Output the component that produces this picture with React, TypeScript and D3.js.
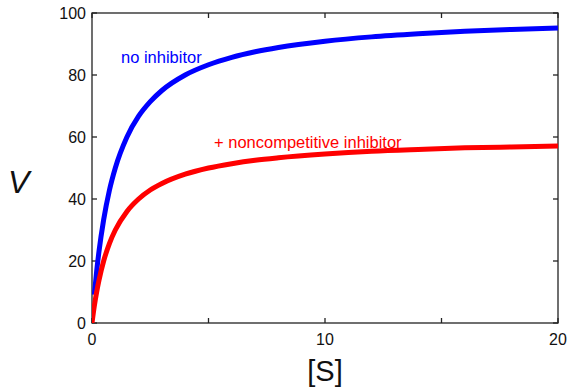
import React from "react";
import * as d3 from "d3";

const S = [0, 0.1, 0.2, 0.3, 0.5, 0.75, 1, 1.5, 2, 2.5, 3, 4, 5, 6, 7, 8, 10, 12, 14, 16, 18, 20];
const noInhibitor = [null, 9.1, 16.7, 23.1, 33.3, 42.9, 50, 60, 66.7, 71.4, 75, 80, 83.3, 85.7, 87.5, 88.9, 90.9, 92.3, 93.3, 94.1, 94.7, 95.2];
const withInhibitor = [0, 5.5, 10, 13.8, 20, 25.7, 30, 36, 40, 42.9, 45, 48, 50, 51.4, 52.5, 53.3, 54.5, 55.4, 56, 56.5, 56.8, 57.1];

const xTicks = [0, 5, 10, 15, 20];
const xTickLabels = [0, 10, 20];
const yTicks = [0, 20, 40, 60, 80, 100];

const W = 568, H = 388;
const L = 92, R = 558, T = 13, B = 323;

export default function App() {
  const x = d3.scaleLinear().domain([0, 20]).range([L, R]);
  const y = d3.scaleLinear().domain([0, 100]).range([B, T]);
  const line = d3
    .line<[number, number | null]>()
    .defined((d) => d[1] !== null)
    .x((d) => x(d[0]))
    .y((d) => y(d[1] as number))
    .curve(d3.curveMonotoneX);
  const blue = line(S.map((s, i) => [s, noInhibitor[i]]));
  const red = line(S.map((s, i) => [s, withInhibitor[i]]));
  const font = "'Liberation Sans', Arial, Helvetica, sans-serif";
  const tl = 5;
  return (
    <svg width={W} height={H} style={{ position: "absolute", left: 0, top: 0, background: "#fff" }} fontFamily={font}>
      <defs>
        <clipPath id="plot">
          <rect x={L} y={T} width={R - L} height={B - T} />
        </clipPath>
      </defs>
      <rect x={L} y={T} width={R - L} height={B - T} fill="none" stroke="#222" strokeWidth={1.3} />
      {xTicks.map((t) => (
        <g key={"x" + t}>
          <line x1={x(t)} x2={x(t)} y1={B} y2={B - tl} stroke="#222" strokeWidth={1.3} />
          <line x1={x(t)} x2={x(t)} y1={T} y2={T + tl} stroke="#222" strokeWidth={1.3} />
        </g>
      ))}
      {xTickLabels.map((t) => (
        <text key={"xl" + t} x={x(t)} y={344.5} fontSize={16} textAnchor="middle" fill="#111">
          {t}
        </text>
      ))}
      {yTicks.map((t) => (
        <g key={"y" + t}>
          <line x1={L} x2={L + tl} y1={y(t)} y2={y(t)} stroke="#222" strokeWidth={1.3} />
          <line x1={R} x2={R - tl} y1={y(t)} y2={y(t)} stroke="#222" strokeWidth={1.3} />
          <text x={L - 6} y={y(t) + 6} fontSize={16} textAnchor="end" fill="#111">
            {t}
          </text>
        </g>
      ))}
      <g clipPath="url(#plot)">
        <path d={blue || ""} fill="none" stroke="#0000ff" strokeWidth={5} />
        <path d={red || ""} fill="none" stroke="#ff0000" strokeWidth={5} />
      </g>
      <text x={121} y={63} fontSize={16.5} fill="#0000ff">no inhibitor</text>
      <text x={214} y={147.5} fontSize={16.5} fill="#ff0000">+ noncompetitive inhibitor</text>
      <text x={325} y={381} fontSize={29} textAnchor="middle" fill="#111">[S]</text>
      <text x={8} y={193} fontSize={32} fontStyle="italic" fill="#111">V</text>
    </svg>
  );
}
